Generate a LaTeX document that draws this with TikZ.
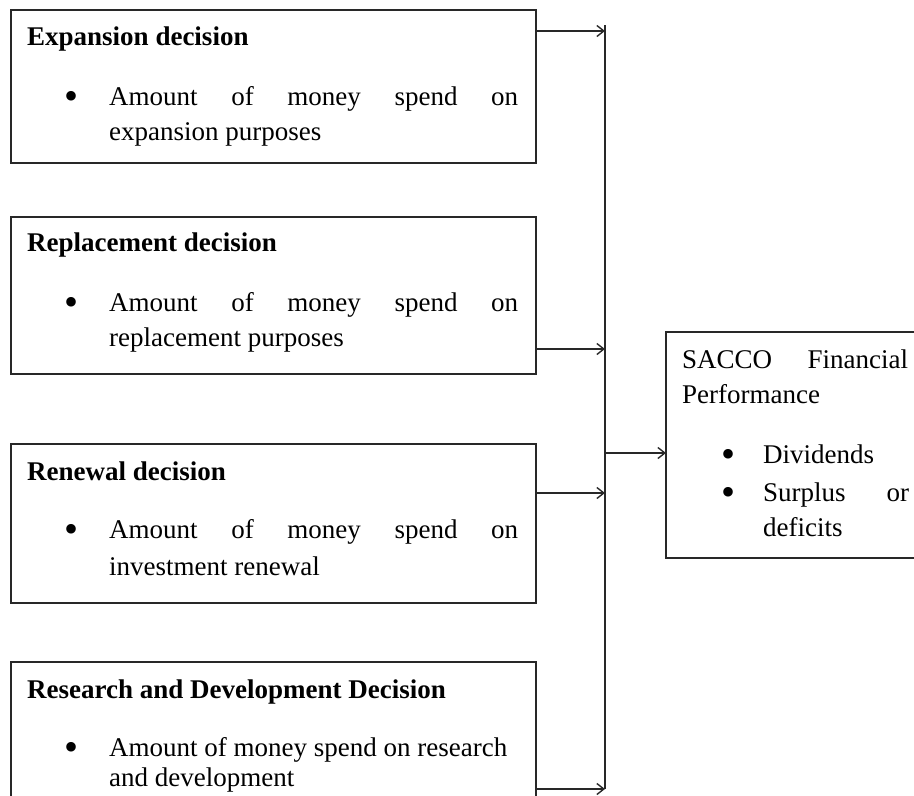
\documentclass[tikz,border=0pt]{standalone}
\usepackage{fontspec}
\setmainfont{Liberation Serif}
\usetikzlibrary{arrows.meta}
\definecolor{ink}{RGB}{40,40,40}
\begin{document}
\begin{tikzpicture}[x=1pt,y=-1pt,
  frame/.style={draw=ink, line width=1.3pt, inner sep=0pt, outer sep=0pt, anchor=north west},
  txt/.style={anchor=base west, inner sep=0pt, font=\fontsize{27}{35}\selectfont, text=black},
  head/.style={anchor=base west, inner sep=0pt, font=\fontsize{27}{35}\selectfont\bfseries, text=black},
  dot/.style={anchor=center, inner sep=0pt, font=\fontsize{40}{40}\selectfont, text=black},
  bus/.style={draw=ink, line width=1.3pt},
  link/.style={draw=ink, line width=1.3pt, -{Straight Barb[length=7pt,width=11pt,line width=1.4pt]}},
]
\useasboundingbox (0,0) rectangle (914,796);
\clip (0,0) rectangle (914,796);

% boxes
\node[frame, minimum width=525pt, minimum height=153pt] (b1) at (11,10) {};
\node[frame, minimum width=525pt, minimum height=157pt] (b2) at (11,217) {};
\node[frame, minimum width=525pt, minimum height=159pt] (b3) at (11,444) {};
\node[frame, minimum width=525pt, minimum height=170pt] (b4) at (11,662) {};
\node[frame, minimum width=270pt, minimum height=226pt] (r) at (666,332) {};

% box 1
\node[head] (h1) at (27,45) {Expansion decision};
\node[dot] (d1) at (72,100) {\textbullet};
\node[txt] (t1a) at (109,105) {\makebox[409pt][s]{Amount of money spend on}};
\node[txt] (t1b) at (109,140) {expansion purposes};

% box 2
\node[head] (h2) at (27,251) {Replacement decision};
\node[dot] (d2) at (72,306) {\textbullet};
\node[txt] (t2a) at (109,311) {\makebox[409pt][s]{Amount of money spend on}};
\node[txt] (t2b) at (109,346) {replacement purposes};

% box 3
\node[head] (h3) at (27,480) {Renewal decision};
\node[dot] (d3) at (72,533) {\textbullet};
\node[txt] (t3a) at (109,538) {\makebox[409pt][s]{Amount of money spend on}};
\node[txt] (t3b) at (109,575) {investment renewal};

% box 4
\node[head] (h4) at (27,698) {Research and Development Decision};
\node[dot] (d4) at (72,751) {\textbullet};
\node[txt] (t4a) at (109,756) {Amount of money spend on research};
\node[txt] (t4b) at (109,786) {and development};

% right box
\node[txt] (rt1) at (682,368) {\makebox[226pt][s]{SACCO Financial}};
\node[txt] (rt2) at (682,403) {Performance};
\node[dot] (rd1) at (728,458) {\textbullet};
\node[txt] (rt3) at (763,463) {Dividends};
\node[dot] (rd2) at (728,496) {\textbullet};
\node[txt] (rt4) at (763,501) {\makebox[146pt][s]{Surplus or}};
\node[txt] (rt5) at (763,536) {deficits};

% bus and connectors
\coordinate (bt) at (605,25);
\coordinate (bb) at (605,789);
\coordinate (j1) at (605,31);
\coordinate (j2) at (605,349);
\coordinate (j3) at (605,493);
\coordinate (j4) at (605,789);
\coordinate (j5) at (605,453);
\draw[bus] (bt) -- (bb);
\draw[link] (j1 -| b1.east) -- (j1);
\draw[link] (j2 -| b2.east) -- (j2);
\draw[link] (j3 -| b3.east) -- (j3);
\draw[link] (j4 -| b4.east) -- (j4);
\draw[link] (j5) -- (j5 -| r.west);
\end{tikzpicture}
\end{document}
